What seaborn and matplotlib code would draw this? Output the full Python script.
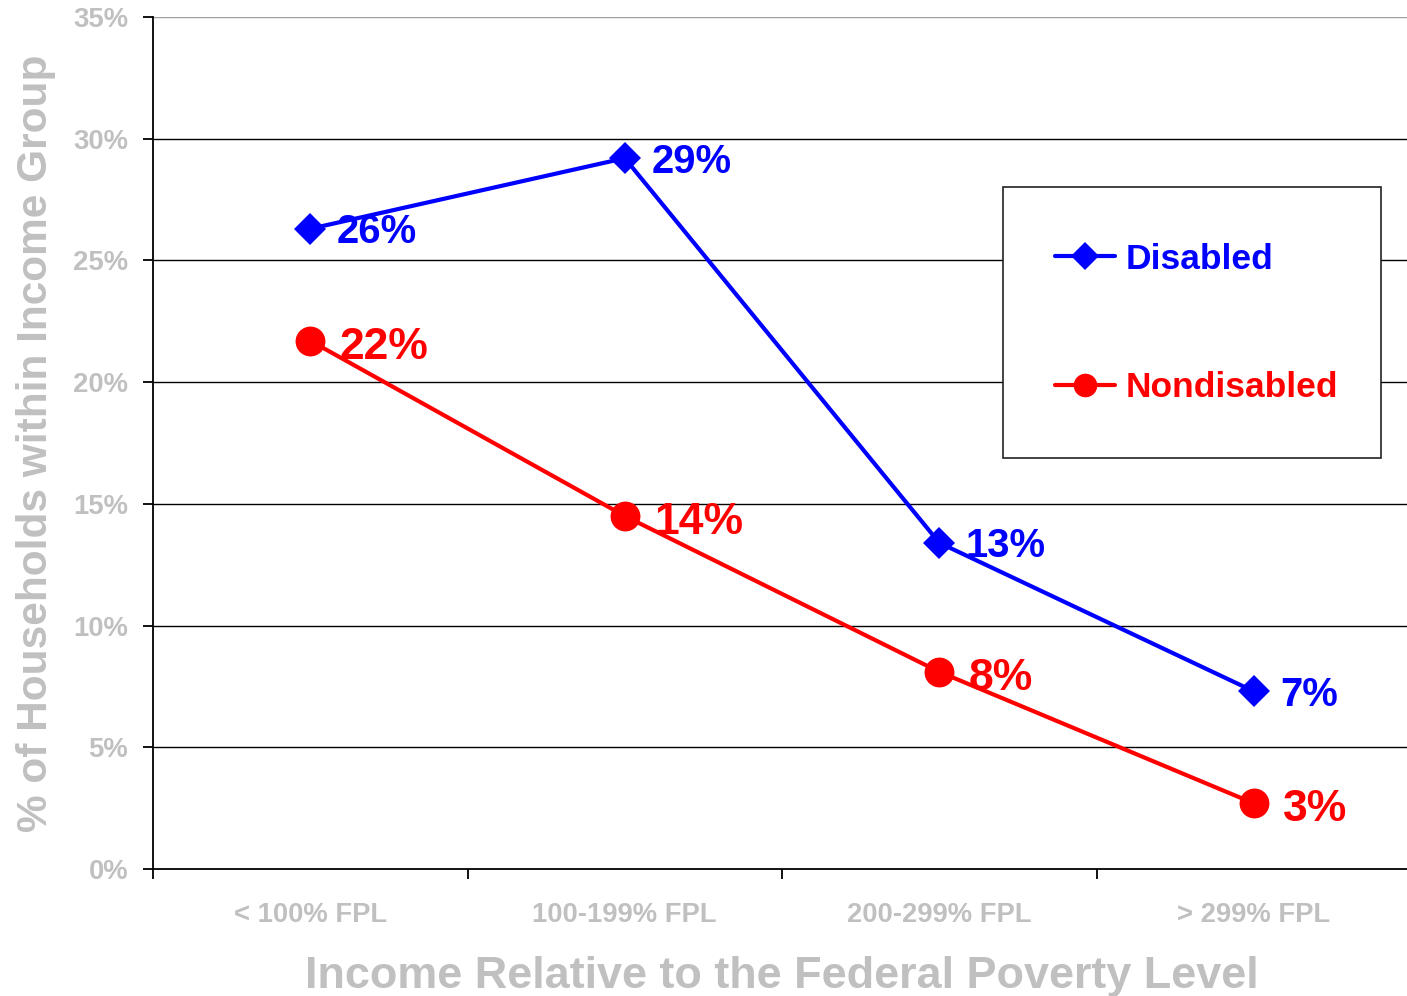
import matplotlib
matplotlib.use("Agg")
import matplotlib.pyplot as plt
import seaborn as sns
import pandas as pd
from matplotlib.patches import Rectangle
from matplotlib.lines import Line2D

categories = ["< 100% FPL", "100-199% FPL", "200-299% FPL", "> 299% FPL"]
disabled = [26.3, 29.2, 13.4, 7.3]
nondisabled = [21.7, 14.5, 8.1, 2.7]
disabled_labels = ["26%", "29%", "13%", "7%"]
nondisabled_labels = ["22%", "14%", "8%", "3%"]
yticks = [0, 5, 10, 15, 20, 25, 30, 35]
ytick_labels = ["0%", "5%", "10%", "15%", "20%", "25%", "30%", "35%"]

sns.set_style("white")
plt.rcParams['font.family'] = ['Liberation Sans', 'DejaVu Sans']
plt.rcParams['font.weight'] = 'bold'

GRAY = "#C0C0C0"
BLUE = "#0000FF"
RED = "#FF0000"

fig = plt.figure(figsize=(14.07, 9.96), dpi=100)
ax = fig.add_axes([153/1407, 1-869/996, (1411-153)/1407, (869-17)/996])

df_d = pd.DataFrame({"x": range(4), "y": disabled})
df_n = pd.DataFrame({"x": range(4), "y": nondisabled})

sns.lineplot(data=df_d, x="x", y="y", ax=ax, color=BLUE, lw=3, marker="D",
             markersize=16, markeredgewidth=0, sort=False, zorder=3)
sns.lineplot(data=df_n, x="x", y="y", ax=ax, color=RED, lw=3, marker="o",
             markersize=21.5, markeredgewidth=0, sort=False, zorder=3)

for i, (v, t) in enumerate(zip(disabled, disabled_labels)):
    ax.annotate(t, (i, v), xytext=(19, -2.5), textcoords="offset points",
                ha="left", va="center", color=BLUE, fontsize=28.8,
                fontweight="bold", zorder=5)
for i, (v, t) in enumerate(zip(nondisabled, nondisabled_labels)):
    ax.annotate(t, (i, v), xytext=(21, -4.5), textcoords="offset points",
                ha="left", va="center", color=RED, fontsize=32,
                fontweight="bold", zorder=5)

ax.set_xlim(-0.5, 3.5)
ax.set_ylim(0, 35)
ax.set_yticks(yticks)
ax.set_yticklabels(ytick_labels)
ax.set_xticks(range(4))
ax.set_xticklabels(categories)
ax.set_xticks([-0.5, 0.5, 1.5, 2.5, 3.5], minor=True)

for y in yticks[1:-1]:
    ax.axhline(y, color="black", lw=1.0, zorder=1)
ax.axhline(35, color="#A0A0A0", lw=1.0, zorder=1)

for s in ["top", "right"]:
    ax.spines[s].set_visible(False)
for s in ["left", "bottom"]:
    ax.spines[s].set_color("black")
    ax.spines[s].set_linewidth(1.3)

ax.tick_params(axis="y", which="major", direction="out", length=7, width=1.3,
               color="black", labelsize=19.8, labelcolor=GRAY, pad=11, left=True)
ax.tick_params(axis="x", which="major", length=0, labelsize=19.7,
               labelcolor=GRAY, pad=24)
ax.tick_params(axis="x", which="minor", direction="out", length=7, width=1.3,
               color="black", bottom=True)
for lab in ax.get_xticklabels() + ax.get_yticklabels():
    lab.set_fontweight("bold")

ax.set_xlabel("Income Relative to the Federal Poverty Level", fontsize=32.4,
              color=GRAY, fontweight="bold", labelpad=20)
ax.set_ylabel("% of Households within Income Group", fontsize=30.5,
              color=GRAY, fontweight="bold", labelpad=12)

# legend box
fig.patches.append(Rectangle((1003/1407, 1-458/996), 378/1407, 271/996,
                             transform=fig.transFigure, facecolor="white",
                             edgecolor="#222222", lw=1.2, zorder=10))
handles = [Line2D([], [], color=BLUE, lw=3, marker="D", markersize=14, markeredgewidth=0),
           Line2D([], [], color=RED, lw=3, marker="o", markersize=17, markeredgewidth=0)]
leg = fig.legend(handles, ["Disabled", "Nondisabled"], loc="center left",
                 bbox_to_anchor=(1055/1407, 1-323.5/996), frameon=False,
                 prop={"size": 25.5, "weight": "bold"}, labelcolor="linecolor",
                 handlelength=1.7, handletextpad=0.28, labelspacing=2.7,
                 borderpad=0, borderaxespad=0)
leg.set_zorder(11)

fig.savefig("out.png", dpi=100)
